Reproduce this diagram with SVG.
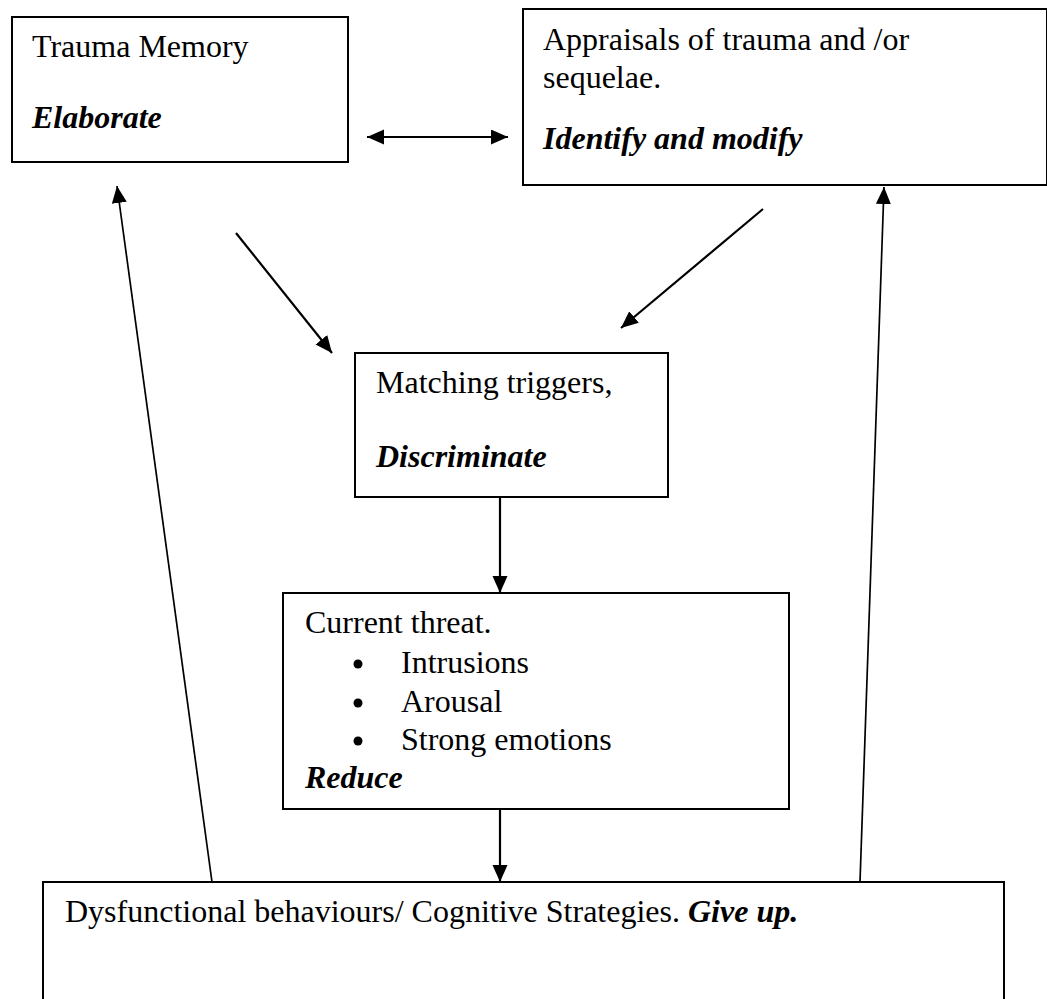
<svg xmlns="http://www.w3.org/2000/svg" width="1047" height="999" viewBox="0 0 1047 999">
  <style>
    .box { fill: #ffffff; stroke: #000000; stroke-width: 2; }
    .txt { font-family: "Liberation Serif", "Times New Roman", serif; font-size: 32px; fill: #000000; }
    .act { font-weight: bold; font-style: italic; }
    .arr { fill: none; stroke: #000000; stroke-width: 2.2; }
    .thin { fill: none; stroke: #000000; stroke-width: 1.7; }
  </style>
  <defs>
    <marker id="head" markerUnits="userSpaceOnUse" markerWidth="18" markerHeight="16" refX="17" refY="7.5" orient="auto-start-reverse">
      <path d="M0,0 L17,7.5 L0,15 Z" fill="#000000"/>
    </marker>
  </defs>
  <rect width="1047" height="999" fill="#ffffff"/>

  <g id="connectors">
    <line class="arr" x1="367" y1="137" x2="508" y2="137" marker-start="url(#head)" marker-end="url(#head)"/>
    <line class="arr" x1="236" y1="233" x2="332" y2="353" marker-end="url(#head)"/>
    <line class="arr" x1="763" y1="209" x2="621" y2="328" marker-end="url(#head)"/>
    <line class="arr" x1="500" y1="497" x2="500" y2="593" marker-end="url(#head)"/>
    <line class="arr" x1="500" y1="809" x2="500" y2="882" marker-end="url(#head)"/>
    <line class="thin" x1="212" y1="882" x2="117" y2="186" marker-end="url(#head)"/>
    <line class="thin" x1="860" y1="882" x2="884" y2="187" marker-end="url(#head)"/>
  </g>

  <g id="trauma-memory">
    <rect class="box" x="12" y="17" width="336" height="145"/>
    <text class="txt" x="32" y="57">Trauma Memory</text>
    <text class="txt act" x="32" y="128">Elaborate</text>
  </g>

  <g id="appraisals">
    <rect class="box" x="523" y="9" width="524" height="176"/>
    <text class="txt" x="543" y="50">Appraisals of trauma and /or</text>
    <text class="txt" x="543" y="88">sequelae.</text>
    <text class="txt act" x="543" y="149">Identify and modify</text>
  </g>

  <g id="matching-triggers">
    <rect class="box" x="355" y="353" width="313" height="144"/>
    <text class="txt" x="376" y="393">Matching triggers,</text>
    <text class="txt act" x="376" y="467">Discriminate</text>
  </g>

  <g id="current-threat">
    <rect class="box" x="283" y="593" width="506" height="216"/>
    <text class="txt" x="305" y="633">Current threat.</text>
    <circle cx="358" cy="664" r="4.5" fill="#000000"/>
    <text class="txt" x="401" y="673">Intrusions</text>
    <circle cx="358" cy="703" r="4.5" fill="#000000"/>
    <text class="txt" x="401" y="712">Arousal</text>
    <circle cx="358" cy="741" r="4.5" fill="#000000"/>
    <text class="txt" x="401" y="750">Strong emotions</text>
    <text class="txt act" x="305" y="788">Reduce</text>
  </g>

  <g id="dysfunctional-strategies">
    <rect class="box" x="43" y="882" width="961" height="140"/>
    <text class="txt" x="65" y="922">Dysfunctional behaviours/ Cognitive Strategies. <tspan class="act">Give up.</tspan></text>
  </g>
</svg>
